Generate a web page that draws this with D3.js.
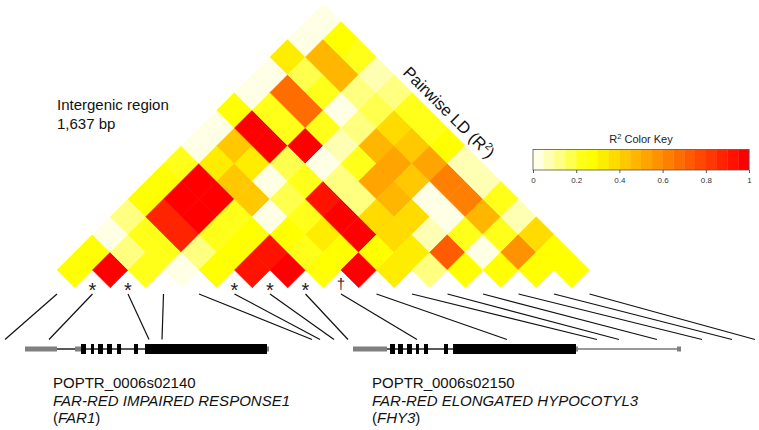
<!DOCTYPE html>
<html><head><meta charset="utf-8">
<script src="https://cdn.jsdelivr.net/npm/d3@7"></script>
<style>
body{margin:0;background:#fff;}
text{font-family:"Liberation Sans",Arial,sans-serif;}
</style></head>
<body><svg id="c" width="759" height="430"></svg>
<script>
// ---- data ----
const snpIndex = d3.range(16);
// pairwise r2, row i lists SNP i with SNPs i+1..15
const ldRows = [
  [0.27,0.27,0.03,0.12,0.27,0.27,0.22,0.04,0.04,0.27,0.04,0.04,0.32,0.04,0.03],
  [0.97,0.12,0.22,0.88,0.97,0.97,0.30,0.40,0.97,0.20,0.67,0.15,0.47,0.25],
  [0.22,0.22,0.88,0.97,0.97,0.40,0.30,0.97,0.20,0.67,0.20,0.47,0.22],
  [0.04,0.12,0.20,0.22,0.40,0.04,0.15,0.97,0.20,0.04,0.12,0.05],
  [0.27,0.27,0.27,0.04,0.15,0.22,0.04,0.08,0.10,0.15,0.12],
  [0.90,0.92,0.27,0.22,0.92,0.12,0.20,0.45,0.35,0.22],
  [0.97,0.22,0.30,0.97,0.12,0.50,0.50,0.40,0.22],
  [0.27,0.25,0.95,0.35,0.45,0.40,0.50,0.25],
  [0.97,0.25,0.35,0.35,0.04,0.60,0.05],
  [0.32,0.30,0.08,0.04,0.60,0.08],
  [0.12,0.70,0.20,0.45,0.22],
  [0.25,0.04,0.22,0.05],
  [0.25,0.55,0.35],
  [0.25,0.25],
  [0.25]
];
// genomic positions (bp) of SNPs on the gene track
const snpPos = [0,880,2880,3140,6140,6300,6580,6860,8240,10040,11840,12280,13040,13940,14540,15000];
const snpMarks = [{snp:1,mark:"*"},{snp:2,mark:"*"},{snp:5,mark:"*"},{snp:6,mark:"*"},{snp:7,mark:"*"},{snp:8,mark:"\u2020"}];
const keyTicks = [0,0.2,0.4,0.6,0.8,1];
// gene models (bp)
const gene1 = {backbone:[1040,5240], utr:[[400,1040],[1400,1520],[5240,5280]],
  exons:[[1520,1620],[1720,1780],[1860,1960],[2040,2140],[2240,2320],[2580,2660],[2800,5240]], tail:null};
const gene2 = {backbone:[7640,11420], utr:[[6960,7640],[11420,11460],[13440,13520]],
  exons:[[7700,7800],[7860,7960],[8040,8140],[8220,8280],[8380,8460],[8780,8860],[8960,11420]], tail:[11460,13460]};
const geneLabels = [
  {pos:960, id:"POPTR_0006s02140", name:"FAR-RED IMPAIRED RESPONSE1", sym:"FAR1"},
  {pos:7340, id:"POPTR_0006s02150", name:"FAR-RED ELONGATED HYPOCOTYL3", sym:"FHY3"}
];

// ---- colours: reversed heat.colors(20) ----
function heatColors(n){
  const j = Math.floor(n/4), i = n-j, out=[];
  for(let k=0;k<i;k++){ const h=(k/(i-1))*(1/6); out.push(d3.rgb(255, Math.round(h*6*255), 0).formatHex()); }
  for(let k=0;k<j;k++){ const s = (1-1/(2*j)) - k*((1-1/(2*j))-(1/(2*j)))/(j-1); out.push(d3.rgb(255,255,Math.round((1-s)*255)).formatHex()); }
  return out;
}
const palette = heatColors(20).reverse();
const color = d3.scaleQuantize().domain([0,1]).range(palette);

const svg = d3.select("#c");
svg.append("rect").attr("width",759).attr("height",430).attr("fill","#fff");

// ---- heatmap ----
const x = d3.scaleLinear().domain([0,15]).range([57,589.5]);
const h = (x(1)-x(0))/2;
const y = d3.scaleLinear().domain([1,15]).range([270,270-14*h]);
const cells=[];
ldRows.forEach((row,i)=>row.forEach((v,k)=>{const j=i+1+k; cells.push({i,j,v});}));
svg.append("g").selectAll("path").data(cells).join("path")
  .attr("d",d=>{const cx=(x(d.i)+x(d.j))/2, cy=y(d.j-d.i);
    return `M${cx},${cy-h}L${cx+h},${cy}L${cx},${cy+h}L${cx-h},${cy}Z`;})
  .attr("fill",d=>color(d.v)).attr("stroke",d=>color(d.v)).attr("stroke-width",0.6);

// marks under SNPs
svg.append("g").selectAll("text").data(snpMarks).join("text")
  .attr("x",d=>x(d.snp)).attr("y",d=>d.mark==="*"?296.5:288.5)
  .attr("text-anchor","middle").attr("font-size",d=>d.mark==="*"?20:15).attr("fill","#222")
  .text(d=>d.mark);

// ---- gene track ----
const gx = d3.scaleLinear().domain([0,15000]).range([5,755]);
const gy = 349;
svg.append("g").selectAll("line").data(snpPos).join("line")
  .attr("x1",(d,i)=>x(i)).attr("y1",294).attr("x2",d=>gx(d)).attr("y2",339.5)
  .attr("stroke","#111").attr("stroke-width",1.2);

function drawGene(g){
  const G = svg.append("g");
  if(g.tail) G.append("line").attr("x1",gx(g.tail[0])).attr("x2",gx(g.tail[1])).attr("y1",gy).attr("y2",gy).attr("stroke","#777").attr("stroke-width",1.3);
  G.append("line").attr("x1",gx(g.backbone[0])).attr("x2",gx(g.backbone[1])).attr("y1",gy).attr("y2",gy).attr("stroke","#222").attr("stroke-width",1.3);
  G.selectAll(".u").data(g.utr).join("rect").attr("class","u")
    .attr("x",d=>gx(d[0])).attr("width",d=>gx(d[1])-gx(d[0])).attr("y",gy-2.5).attr("height",5).attr("fill","#808080");
  G.selectAll(".e").data(g.exons).join("rect").attr("class","e")
    .attr("x",d=>gx(d[0])).attr("width",d=>gx(d[1])-gx(d[0])).attr("y",gy-5).attr("height",10).attr("fill","#000");
}
drawGene(gene1); drawGene(gene2);

const lab = svg.append("g").selectAll("g").data(geneLabels).join("g")
  .attr("transform",d=>`translate(${gx(d.pos)},0)`);
lab.append("text").attr("y",388).attr("font-size",15).attr("fill","#111").text(d=>d.id);
lab.append("text").attr("y",405.5).attr("font-size",15).attr("font-style","italic").attr("fill","#111").text(d=>d.name);
const t3 = lab.append("text").attr("y",423).attr("font-size",15).attr("fill","#111");
t3.append("tspan").text("(");
t3.append("tspan").attr("font-style","italic").text(d=>d.sym);
t3.append("tspan").text(")");

// ---- annotations ----
svg.append("text").attr("x",57).attr("y",110).attr("font-size",15).attr("fill","#111").text("Intergenic region");
svg.append("text").attr("x",57).attr("y",129).attr("font-size",15).attr("fill","#111").text("1,637 bp");

const pl = svg.append("text").attr("transform","translate(402,73.5) rotate(45)").attr("font-size",16.5).attr("fill","#111");
pl.append("tspan").text("Pairwise LD (R");
pl.append("tspan").attr("font-size",10.5).attr("dy",-6.5).text("2");
pl.append("tspan").attr("dy",6.5).text(")");

// ---- colour key ----
const kx = d3.scaleLinear().domain([0,1]).range([533,749]);
const key = svg.append("g");
const kt = key.append("text").attr("x",641).attr("y",143).attr("text-anchor","middle").attr("font-size",11).attr("fill","#222");
kt.append("tspan").text("R");
kt.append("tspan").attr("font-size",7.5).attr("dy",-4).text("2");
kt.append("tspan").attr("dy",4).text(" Color Key");
key.selectAll(".b").data(palette).join("rect").attr("class","b")
  .attr("x",(d,i)=>kx(i/20)).attr("width",kx(0.05)-kx(0)+0.3).attr("y",149.5).attr("height",20.5).attr("fill",d=>d);
key.append("rect").attr("x",533).attr("y",149.5).attr("width",216).attr("height",20.5).attr("fill","none").attr("stroke","#555").attr("stroke-width",0.8);
const ax = key.append("g").attr("transform","translate(0,170)")
  .call(d3.axisBottom(kx).tickValues(keyTicks).tickFormat(d3.format("~g")).tickSize(3));
ax.select(".domain").remove();
ax.selectAll("line").attr("stroke","#555");
ax.selectAll("text").attr("font-size",8).attr("fill","#333").attr("font-family","Liberation Sans, Arial, sans-serif").attr("dy","0.9em");
</script></body></html>
